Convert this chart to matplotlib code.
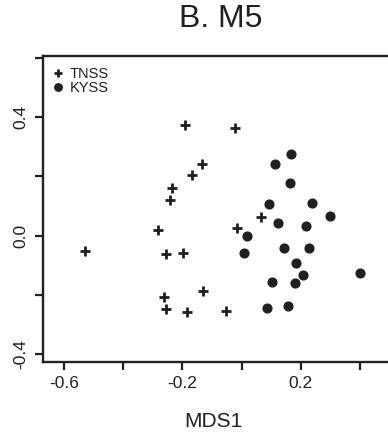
import matplotlib
matplotlib.use("Agg")
import matplotlib.pyplot as plt

plt.rcParams['font.family'] = ['Liberation Sans', 'DejaVu Sans']

ink = '#231f20'

# MDS coordinates
tnss_x = [-0.191, -0.024, -0.134, -0.168, -0.236, -0.242, -0.284, 0.065, -0.016,
          -0.529, -0.255, -0.197, -0.129, -0.261, -0.257, -0.183, -0.052]
tnss_y = [0.373, 0.362, 0.241, 0.204, 0.159, 0.120, 0.019, 0.063, 0.024,
          -0.051, -0.062, -0.058, -0.186, -0.207, -0.249, -0.257, -0.255]

kyss_x = [0.168, 0.112, 0.164, 0.093, 0.237, 0.298, 0.124, 0.218, 0.018, 0.008,
          0.142, 0.227, 0.182, 0.208, 0.399, 0.101, 0.180, 0.086, 0.156]
kyss_y = [0.276, 0.240, 0.176, 0.105, 0.111, 0.066, 0.041, 0.032, -0.002, -0.058,
          -0.043, -0.042, -0.092, -0.133, -0.125, -0.158, -0.159, -0.245, -0.238]

xticks = [-0.6, -0.4, -0.2, 0.0, 0.2, 0.4]
xlabels = ['-0.6', '', '-0.2', '', '0.2', '']
yticks = [-0.4, -0.2, 0.0, 0.2, 0.4, 0.6]
ylabels = ['-0.4', '', '0.0', '', '0.4', '']

W, H = 388, 440
fig = plt.figure(figsize=(W / 100, H / 100), dpi=100)
# axes run past the right edge of the figure, as in the cropped original
left, right, top, bottom = 42.7, 400, 56, 361.7
ax = fig.add_axes([left / W, 1 - bottom / H, (right - left) / W, (bottom - top) / H])

ax.plot(tnss_x, tnss_y, '+', color=ink, ms=7, mew=2.0, ls='none', label='TNSS')
ax.plot(kyss_x, kyss_y, 'o', color=ink, ms=6.3, mec=ink, ls='none', label='KYSS')

ax.set_xlim(-0.672, 0.535)
ax.set_ylim(-0.426, 0.606)

ax.set_xticks(xticks, xlabels)
ax.set_yticks(yticks, ylabels)
for t in ax.get_yticklabels():
    t.set_rotation(90)
    t.set_va('center')
ax.tick_params(direction='out', length=5.5, width=1.6, color=ink,
               labelsize=12.5, labelcolor=ink, pad=4.5)
ax.tick_params(axis='y', pad=5)
for s in ax.spines.values():
    s.set_linewidth(1.7)
    s.set_color(ink)

leg = ax.legend(loc='upper left', bbox_to_anchor=(0.03, 0.965), frameon=False,
                fontsize=10.5, handlelength=0.6, handletextpad=0.5,
                labelspacing=0.0, borderpad=0, borderaxespad=0, markerscale=0.85)
for t in leg.get_texts():
    t.set_color(ink)

fig.text(221 / W, 1 - 19 / H, 'B. M5', ha='center', va='center', fontsize=23, color=ink)
fig.text(213 / W, 1 - 421 / H, 'MDS1', ha='center', va='center', fontsize=15, color=ink)

fig.savefig('out.png', dpi=100)
